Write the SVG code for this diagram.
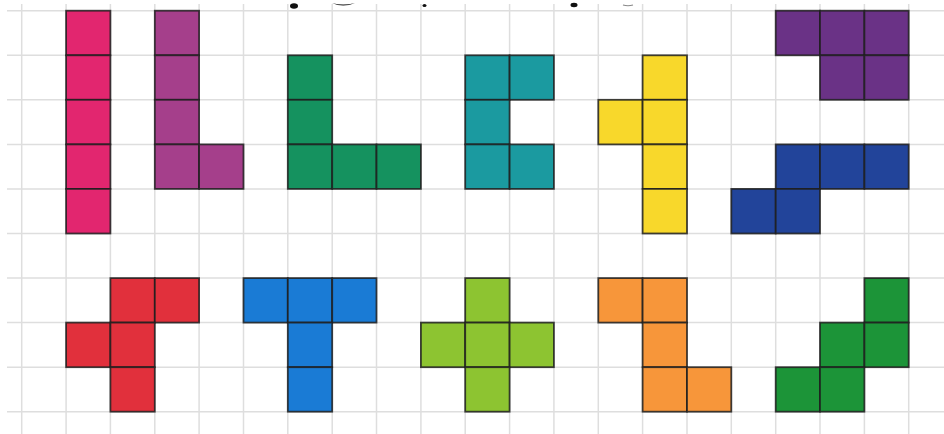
<svg xmlns="http://www.w3.org/2000/svg" width="944" height="434" viewBox="0 0 944 434">
<style>
.grid line{stroke:#dedede;stroke-width:1.5}
.piece rect{stroke:#1e1e1e;stroke-width:1.8;stroke-opacity:0.85}
.blob{fill:#111}
</style>
<rect x="0" y="0" width="944" height="434" fill="#ffffff"/>
<g id="grid" class="grid">
<line x1="21.7" y1="4" x2="21.7" y2="434"/>
<line x1="66.1" y1="4" x2="66.1" y2="434"/>
<line x1="110.4" y1="4" x2="110.4" y2="434"/>
<line x1="154.8" y1="4" x2="154.8" y2="434"/>
<line x1="199.1" y1="4" x2="199.1" y2="434"/>
<line x1="243.5" y1="4" x2="243.5" y2="434"/>
<line x1="287.8" y1="4" x2="287.8" y2="434"/>
<line x1="332.2" y1="4" x2="332.2" y2="434"/>
<line x1="376.5" y1="4" x2="376.5" y2="434"/>
<line x1="420.9" y1="4" x2="420.9" y2="434"/>
<line x1="465.2" y1="4" x2="465.2" y2="434"/>
<line x1="509.6" y1="4" x2="509.6" y2="434"/>
<line x1="553.9" y1="4" x2="553.9" y2="434"/>
<line x1="598.3" y1="4" x2="598.3" y2="434"/>
<line x1="642.6" y1="4" x2="642.6" y2="434"/>
<line x1="687.0" y1="4" x2="687.0" y2="434"/>
<line x1="731.3" y1="4" x2="731.3" y2="434"/>
<line x1="775.7" y1="4" x2="775.7" y2="434"/>
<line x1="820.0" y1="4" x2="820.0" y2="434"/>
<line x1="864.4" y1="4" x2="864.4" y2="434"/>
<line x1="908.7" y1="4" x2="908.7" y2="434"/>
<line x1="7" y1="10.7" x2="944" y2="10.7"/>
<line x1="7" y1="55.3" x2="944" y2="55.3"/>
<line x1="7" y1="99.8" x2="944" y2="99.8"/>
<line x1="7" y1="144.4" x2="944" y2="144.4"/>
<line x1="7" y1="188.9" x2="944" y2="188.9"/>
<line x1="7" y1="233.5" x2="944" y2="233.5"/>
<line x1="7" y1="278.1" x2="944" y2="278.1"/>
<line x1="7" y1="322.6" x2="944" y2="322.6"/>
<line x1="7" y1="367.2" x2="944" y2="367.2"/>
<line x1="7" y1="411.7" x2="944" y2="411.7"/>
</g>
<g id="title-fragments">
<ellipse class="blob" cx="294" cy="6" rx="4" ry="2.8"/>
<path class="blob" d="M332,3 Q343,8 355,3 Q343,6 332,3 Z"/>
<ellipse class="blob" cx="424.5" cy="5.5" rx="2" ry="1.6"/>
<ellipse class="blob" cx="574" cy="5" rx="3.5" ry="2.2"/>
<path d="M623,5 Q628,6.5 633,5" stroke="#888" stroke-width="1.2" fill="none"/>
</g>
<g id="piece-I" class="piece" fill="#E2266F">
<rect x="66.1" y="10.7" width="44.3" height="44.6"/>
<rect x="66.1" y="55.3" width="44.3" height="44.5"/>
<rect x="66.1" y="99.8" width="44.3" height="44.6"/>
<rect x="66.1" y="144.4" width="44.3" height="44.5"/>
<rect x="66.1" y="188.9" width="44.3" height="44.6"/>
</g>
<g id="piece-L" class="piece" fill="#A53F8B">
<rect x="154.8" y="10.7" width="44.3" height="44.6"/>
<rect x="154.8" y="55.3" width="44.3" height="44.5"/>
<rect x="154.8" y="99.8" width="44.3" height="44.6"/>
<rect x="154.8" y="144.4" width="44.3" height="44.5"/>
<rect x="199.1" y="144.4" width="44.4" height="44.5"/>
</g>
<g id="piece-V" class="piece" fill="#15925F">
<rect x="287.8" y="55.3" width="44.4" height="44.5"/>
<rect x="287.8" y="99.8" width="44.4" height="44.6"/>
<rect x="287.8" y="144.4" width="44.4" height="44.5"/>
<rect x="332.2" y="144.4" width="44.3" height="44.5"/>
<rect x="376.5" y="144.4" width="44.4" height="44.5"/>
</g>
<g id="piece-U" class="piece" fill="#1B9AA0">
<rect x="465.2" y="55.3" width="44.4" height="44.5"/>
<rect x="509.6" y="55.3" width="44.3" height="44.5"/>
<rect x="465.2" y="99.8" width="44.4" height="44.6"/>
<rect x="465.2" y="144.4" width="44.4" height="44.5"/>
<rect x="509.6" y="144.4" width="44.3" height="44.5"/>
</g>
<g id="piece-Y" class="piece" fill="#F8D82B">
<rect x="642.6" y="55.3" width="44.4" height="44.5"/>
<rect x="598.3" y="99.8" width="44.3" height="44.6"/>
<rect x="642.6" y="99.8" width="44.4" height="44.6"/>
<rect x="642.6" y="144.4" width="44.4" height="44.5"/>
<rect x="642.6" y="188.9" width="44.4" height="44.6"/>
</g>
<g id="piece-P" class="piece" fill="#6A3286">
<rect x="775.7" y="10.7" width="44.3" height="44.6"/>
<rect x="820.0" y="10.7" width="44.4" height="44.6"/>
<rect x="864.4" y="10.7" width="44.3" height="44.6"/>
<rect x="820.0" y="55.3" width="44.4" height="44.5"/>
<rect x="864.4" y="55.3" width="44.3" height="44.5"/>
</g>
<g id="piece-N" class="piece" fill="#22449A">
<rect x="775.7" y="144.4" width="44.3" height="44.5"/>
<rect x="820.0" y="144.4" width="44.4" height="44.5"/>
<rect x="864.4" y="144.4" width="44.3" height="44.5"/>
<rect x="731.3" y="188.9" width="44.4" height="44.6"/>
<rect x="775.7" y="188.9" width="44.3" height="44.6"/>
</g>
<g id="piece-F" class="piece" fill="#E1303C">
<rect x="110.4" y="278.1" width="44.4" height="44.5"/>
<rect x="154.8" y="278.1" width="44.3" height="44.5"/>
<rect x="66.1" y="322.6" width="44.3" height="44.6"/>
<rect x="110.4" y="322.6" width="44.4" height="44.6"/>
<rect x="110.4" y="367.2" width="44.4" height="44.5"/>
</g>
<g id="piece-T" class="piece" fill="#1A7BD5">
<rect x="243.5" y="278.1" width="44.3" height="44.5"/>
<rect x="287.8" y="278.1" width="44.4" height="44.5"/>
<rect x="332.2" y="278.1" width="44.3" height="44.5"/>
<rect x="287.8" y="322.6" width="44.4" height="44.6"/>
<rect x="287.8" y="367.2" width="44.4" height="44.5"/>
</g>
<g id="piece-X" class="piece" fill="#8DC431">
<rect x="465.2" y="278.1" width="44.4" height="44.5"/>
<rect x="420.9" y="322.6" width="44.3" height="44.6"/>
<rect x="465.2" y="322.6" width="44.4" height="44.6"/>
<rect x="509.6" y="322.6" width="44.3" height="44.6"/>
<rect x="465.2" y="367.2" width="44.4" height="44.5"/>
</g>
<g id="piece-Z" class="piece" fill="#F7963A">
<rect x="598.3" y="278.1" width="44.3" height="44.5"/>
<rect x="642.6" y="278.1" width="44.4" height="44.5"/>
<rect x="642.6" y="322.6" width="44.4" height="44.6"/>
<rect x="642.6" y="367.2" width="44.4" height="44.5"/>
<rect x="687.0" y="367.2" width="44.3" height="44.5"/>
</g>
<g id="piece-W" class="piece" fill="#1C9438">
<rect x="864.4" y="278.1" width="44.3" height="44.5"/>
<rect x="820.0" y="322.6" width="44.4" height="44.6"/>
<rect x="864.4" y="322.6" width="44.3" height="44.6"/>
<rect x="775.7" y="367.2" width="44.3" height="44.5"/>
<rect x="820.0" y="367.2" width="44.4" height="44.5"/>
</g>
<g id="connectors"/>
</svg>
